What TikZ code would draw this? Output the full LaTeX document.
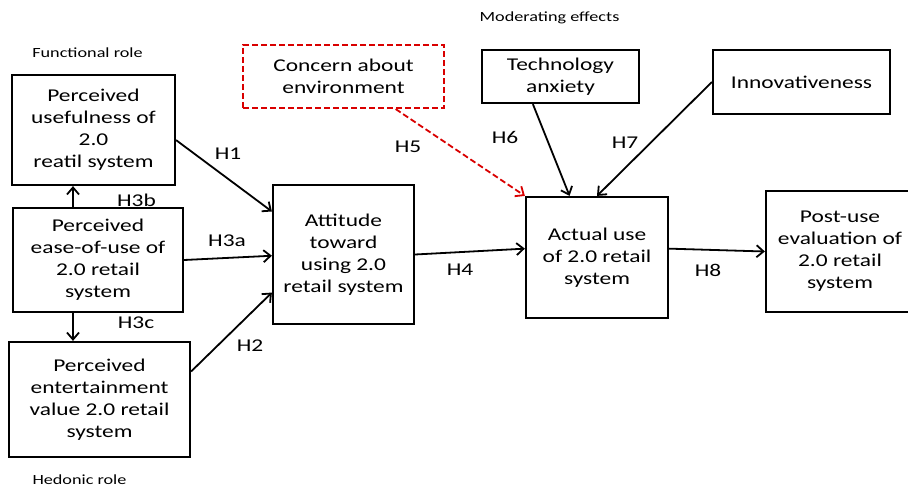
\documentclass[tikz,border=0pt]{standalone}
\usepackage{fontspec}
\setmainfont[FakeStretch=1.3]{Carlito}
\usetikzlibrary{arrows.meta}

\begin{document}
\begin{tikzpicture}[x=0.5pt,y=-0.5pt,
    box/.style={draw,line width=1.1pt,align=center,inner sep=0pt,font=\fontsize{9}{11}\selectfont},
    arr/.style={line width=0.9pt,-{Straight Barb[length=3.5pt,width=6pt]}},
    hyp/.style={inner sep=0pt,font=\fontsize{9}{11}\selectfont},
    role/.style={inner sep=0pt,font=\fontsize{7}{8}\selectfont}]
    \useasboundingbox (0,0) rectangle (908,486);
    % group labels
    \node[role] (func) at (87.5,53) {Functional role};
    \node[role] (hedo) at (79.5,480) {Hedonic role};
    \node[role] (mode) at (549.5,18) {Moderating effects};
    % constructs
    \node[box,minimum width=81.5pt,minimum height=55pt] (pu) at (93.5,130) {Perceived\\usefulness of\\2.0\\reatil system};
    \node[box,minimum width=85pt,minimum height=52pt] (peou) at (98,260) {Perceived\\ease-of-use of\\2.0 retail\\system};
    \node[box,minimum width=90.5pt,minimum height=57.5pt] (pev) at (99.5,399.5) {Perceived\\entertainment\\value 2.0 retail\\system};
    \node[box,minimum width=70.5pt,minimum height=69.5pt] (att) at (343.5,254.5) {Attitude\\toward\\using 2.0\\retail system};
    \node[box,draw=red!85!black,dashed,dash pattern=on 3pt off 1.5pt,minimum width=100.5pt,minimum height=31.5pt] (env) at (343.5,76.5) {Concern about\\environment};
    \node[box,minimum width=78.5pt,minimum height=26.5pt] (tech) at (560.5,76.5) {Technology\\anxiety};
    \node[box,minimum width=88.5pt,minimum height=32pt] (inno) at (801.5,82) {Innovativeness};
    \node[box,minimum width=71pt,minimum height=60.5pt] (act) at (597,257.5) {Actual use\\of 2.0 retail\\system};
    \node[box,minimum width=74pt,minimum height=60.5pt] (post) at (840,251.5) {Post-use\\evaluation of\\2.0 retail\\system};
    % hypotheses
    \draw[arr] (pu.-7) -- (att.149.5);
    \draw[arr] (peou.east) -- (att.181);
    \draw[arr] (pev.17.5) -- (att.208);
    \draw[arr] ([xshift=-12.5pt]peou.north) -- ([xshift=-10.25pt]pu.south);
    \draw[arr] ([xshift=-12.5pt]peou.south) -- ([xshift=-13.25pt]pev.north);
    \draw[arr] (att.east) -- (act.173);
    \draw[arr,red!85!black,dashed,dash pattern=on 3pt off 1.5pt] (env.-32.5) -- (act.north west);
    \draw[arr] (tech.-135) -- (act.114);
    \draw[arr] (inno.west) -- (act.north);
    \draw[arr] (act.7) -- (post.west);
    \node[hyp] (h1) at (228,154) {H1};
    \node[hyp] (h2) at (250,346) {H2};
    \node[hyp] (h3a) at (227,241) {H3a};
    \node[hyp] (h3b) at (136.5,200) {H3b};
    \node[hyp] (h3c) at (136,323) {H3c};
    \node[hyp] (h4) at (460,270) {H4};
    \node[hyp] (h5) at (408,147) {H5};
    \node[hyp] (h6) at (505,137) {H6};
    \node[hyp] (h7) at (625,143) {H7};
    \node[hyp] (h8) at (708,270) {H8};
\end{tikzpicture}
\end{document}
